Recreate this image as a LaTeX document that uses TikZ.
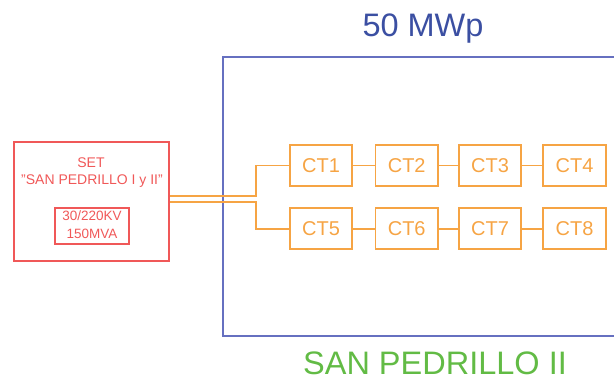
\documentclass[tikz,border=0pt]{standalone}
\usepackage{fontspec}
\setmainfont{Liberation Sans}
\definecolor{frameblue}{HTML}{6670C0}
\definecolor{titleblue}{HTML}{3B4FA2}
\definecolor{setred}{HTML}{F05858}
\definecolor{ctorange}{HTML}{F6A444}
\definecolor{sitegreen}{HTML}{62BB45}
\begin{document}
\begin{tikzpicture}[x=1pt,y=-1pt,
  ctbox/.style={draw=ctorange,line width=1.7pt,minimum width=62.5pt,minimum height=41pt,inner sep=0pt,
    text=ctorange,font=\fontsize{20}{24}\selectfont},
  link/.style={draw=ctorange,line width=1.7pt},
  settext/.style={text=setred,anchor=base,inner sep=0pt,font=\fontsize{14}{16}\selectfont},
  bigtext/.style={anchor=base,inner sep=0pt,font=\fontsize{32.5}{38}\selectfont}]
\useasboundingbox (0,0) rectangle (614,380);
% frame of the plant
\draw[frameblue,line width=1.8pt] (618,57) -- (223,57) -- (223,336) -- (618,336);
\node[bigtext,text=titleblue] (title) at (423,37) {50 MWp};
\node[bigtext,text=sitegreen] (site) at (435,374.5) {SAN PEDRILLO II};
% substation
\node[draw=setred,line width=1.7pt,minimum width=155pt,minimum height=119pt,inner sep=0pt] (set) at (91.5,201.5) {};
\node[draw=setred,line width=1.7pt,minimum width=74pt,minimum height=36.5pt,inner sep=0pt] (trafo) at (92,226) {};
\node[settext] (setl1) at (91,167.3) {SET};
\node[settext] (setl2) at (92,184) {"SAN PEDRILLO I y II"};
\node[settext,font=\fontsize{13.5}{15}\selectfont] (tr1) at (92,220) {30/220KV};
\node[settext,font=\fontsize{13.5}{15}\selectfont] (tr2) at (92,238) {150MVA};
% CT nodes
\node[ctbox] (ct1) at (321,165.5) {CT1};
\node[ctbox] (ct2) at (406.7,165.5) {CT2};
\node[ctbox] (ct3) at (490,165.5) {CT3};
\node[ctbox] (ct4) at (574.5,165.5) {CT4};
\node[ctbox] (ct5) at (321,228.7) {CT5};
\node[ctbox] (ct6) at (406.7,228.7) {CT6};
\node[ctbox] (ct7) at (490,228.7) {CT7};
\node[ctbox] (ct8) at (574.5,228.7) {CT8};
\draw[link] (ct1) -- (ct2);
\draw[link] (ct2) -- (ct3);
\draw[link] (ct3) -- (ct4);
\draw[link] (ct5) -- (ct6);
\draw[link] (ct6) -- (ct7);
\draw[link] (ct7) -- (ct8);
\draw[link] ([yshift=5.5pt]set.east) -- ++(86,0) |- (ct1.west);
\draw[link] ([yshift=-0.8pt]set.east) -- ++(86,0) |- (ct5.west);
\end{tikzpicture}
\end{document}
